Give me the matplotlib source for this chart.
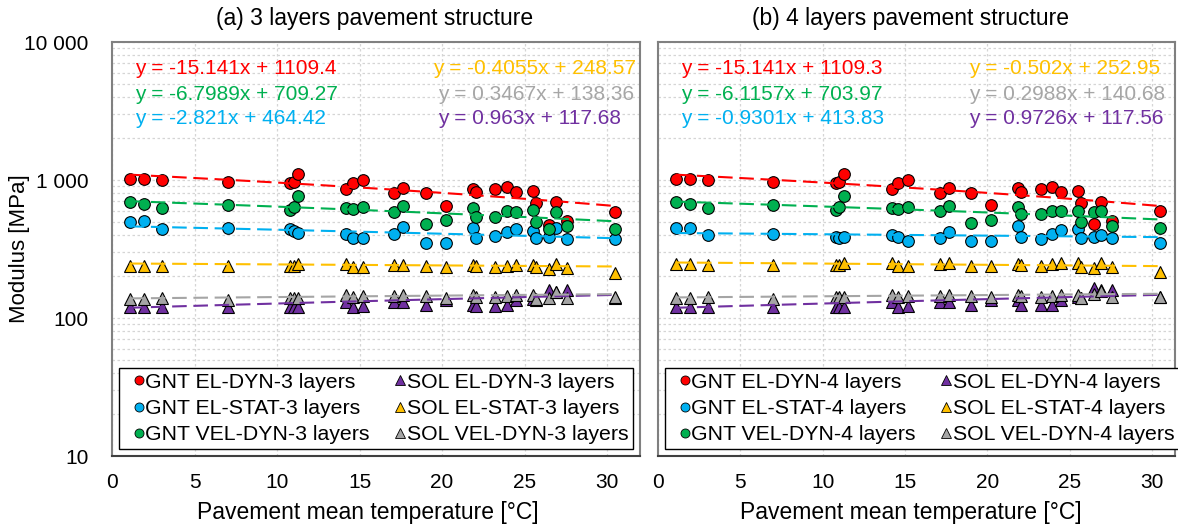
import numpy as np
import matplotlib
matplotlib.use("Agg")
import matplotlib.pyplot as plt
from matplotlib.lines import Line2D
from matplotlib.ticker import LogLocator, FuncFormatter, NullFormatter

plt.rcParams['font.family'] = ['Liberation Sans', 'DejaVu Sans']

# ---------------- data ----------------
temperature = [1.07, 1.94, 3.05, 7.0, 10.8, 11.0, 11.29, 14.2, 14.6, 15.2, 17.1, 17.66,
               19.04, 20.25, 21.86, 22.07, 23.24, 23.93, 24.5, 25.5, 25.7, 26.5, 26.92,
               27.6, 30.46]

series_names = ["GNT EL-DYN", "GNT EL-STAT", "GNT VEL-DYN",
                "SOL EL-DYN", "SOL EL-STAT", "SOL VEL-DYN"]
series_colors = ["#FF0000", "#00B0F0", "#00B050", "#7030A0", "#FFC000", "#A5A5A5"]
series_markers = ["o", "o", "o", "^", "^", "^"]

# (a) 3 layers
gnt_el_dyn_3 = [1012, 1022, 1000, 962, 946, 972, 1105, 856, 946, 1000, 801, 880, 801, 651,
                860, 823, 860, 894, 814, 837, 678, 472, 696, 505, 589]
gnt_el_stat_3 = [499, 505, 441, 451, 441, 427, 411, 406, 378, 378, 404, 459, 348, 348,
                 451, 378, 395, 420, 439, 427, 378, 384, 446, 372, 374]
gnt_vel_dyn_3 = [689, 670, 623, 659, 606, 641, 770, 630, 616, 641, 590, 648, 480, 513,
                 623, 542, 536, 596, 590, 606, 493, 439, 590, 464, 441]
sol_el_dyn_3 = [121, 121, 121, 120, 121, 121, 121, 131, 121, 122, 131, 131, 124, 135,
                124, 123, 123, 124, 135, 137, 135, 160, 155, 160, 140]
sol_el_stat_3 = [239, 239, 237, 237, 239, 239, 245, 246, 236, 236, 242, 242, 238, 236,
                 242, 238, 236, 239, 242, 242, 233, 225, 245, 232, 211]
sol_vel_dyn_3 = [137, 137, 139, 135, 139, 139, 139, 148, 143, 144, 145, 147, 145, 139,
                 148, 143, 143, 145, 148, 148, 137, 140, 155, 140, 143]

# (b) 4 layers
gnt_el_dyn_4 = [1012, 1022, 1000, 962, 946, 972, 1105, 856, 946, 1000, 800, 880, 810, 659,
                870, 823, 861, 895, 814, 837, 677, 480, 697, 505, 596]
gnt_el_stat_4 = [446, 451, 400, 404, 384, 378, 389, 400, 384, 361, 378, 422, 363, 363,
                 464, 384, 372, 406, 434, 439, 378, 389, 400, 382, 351]
gnt_vel_dyn_4 = [689, 670, 623, 659, 606, 641, 770, 630, 616, 641, 596, 652, 485, 513,
                 634, 567, 567, 600, 600, 600, 499, 590, 600, 464, 446]
sol_el_dyn_4 = [121, 121, 121, 120, 121, 121, 121, 131, 121, 122, 131, 131, 124, 135,
                135, 124, 124, 124, 135, 142, 139, 164, 160, 160, 142]
sol_el_stat_4 = [246, 246, 242, 242, 242, 242, 249, 251, 239, 239, 246, 251, 239, 238,
                 246, 242, 238, 245, 249, 249, 233, 229, 249, 233, 214]
sol_vel_dyn_4 = [140, 140, 141, 137, 141, 141, 143, 148, 143, 145, 145, 148, 145, 143,
                 148, 144, 143, 145, 148, 148, 140, 150, 157, 143, 143]

# trendline coefficients (as printed on the chart)
slopes_3 = [-15.141, -2.821, -6.7989, 0.963, -0.4055, 0.3467]
intercepts_3 = [1109.4, 464.42, 709.27, 117.68, 248.57, 138.36]
slopes_4 = [-15.141, -0.9301, -6.1157, 0.9726, -0.502, 0.2988]
intercepts_4 = [1109.3, 413.83, 703.97, 117.56, 252.95, 140.68]

panel_titles = ["(a) 3 layers pavement structure", "(b) 4 layers pavement structure"]
layer_labels = ["3 layers", "4 layers"]
x_ticks = [0, 5, 10, 15, 20, 25, 30]
y_ticks = [10, 100, 1000, 10000]

panels = [
    dict(values=[gnt_el_dyn_3, gnt_el_stat_3, gnt_vel_dyn_3, sol_el_dyn_3, sol_el_stat_3, sol_vel_dyn_3],
         slopes=slopes_3, intercepts=intercepts_3),
    dict(values=[gnt_el_dyn_4, gnt_el_stat_4, gnt_vel_dyn_4, sol_el_dyn_4, sol_el_stat_4, sol_vel_dyn_4],
         slopes=slopes_4, intercepts=intercepts_4),
]

# ---------------- layout ----------------
W, H = 1178, 526
fig = plt.figure(figsize=(W / 100, H / 100), dpi=100)

def px_axes(l, t, r, b):
    return fig.add_axes([l / W, 1 - b / H, (r - l) / W, (b - t) / H])

axes_px = [(112, 42, 640, 456), (658, 42, 1175, 456)]
xlims = [(0, 32), (0, 31.4)]
title_x = [375, 910]
xlabel_x = [368, 911]

# equation text placement (pixel positions): order matches series order
eq_pos = [
    [(135, 68), (135, 119), (135, 94), (438, 119), (433, 68), (438, 94)],
    [(681, 68), (681, 119), (681, 94), (969, 119), (969, 68), (969, 94)],
]

TXT = 15
for p, panel in enumerate(panels):
    l, t, r, b = axes_px[p]
    ax = px_axes(l, t, r, b)
    ax.set_yscale('log')
    ax.set_xlim(*xlims[p])
    ax.set_ylim(10, 10000)

    T = np.array(temperature)
    for i in range(6):
        ax.plot(T, panel['values'][i], linestyle='none', marker=series_markers[i],
                markersize=8.4, markerfacecolor=series_colors[i], markeredgecolor='black',
                markeredgewidth=0.8, zorder=2 + i * 0.01)
    for i in range(6):
        xs = np.linspace(T.min(), T.max(), 60)
        ax.plot(xs, panel['slopes'][i] * xs + panel['intercepts'][i], color=series_colors[i],
                lw=1.5, dashes=(7, 3.2), zorder=3)

    # equations
    for i in range(6):
        ex, ey = eq_pos[p][i]
        col = series_colors[i] if series_colors[i] != "#A5A5A5" else "#A6A6A6"
        ax.text((ex - l) / (r - l), (b - ey) / (b - t),
                f"y = {panel['slopes'][i]}x + {panel['intercepts'][i]}",
                transform=ax.transAxes, ha='left', va='center', fontsize=TXT, color=col, zorder=5)

    # grid
    ax.set_xticks(x_ticks)
    ax.yaxis.set_minor_locator(LogLocator(base=10, subs=np.arange(2, 10)))
    ax.yaxis.set_minor_formatter(NullFormatter())
    ax.set_yticks(y_ticks)
    ax.grid(True, which='major', axis='both', color='#D5D5D5', linestyle=(0, (2, 2)), lw=0.9, zorder=0)
    ax.grid(True, which='minor', axis='y', color='#D5D5D5', linestyle=(0, (2, 2)), lw=0.9, zorder=0)
    ax.set_axisbelow(True)
    ax.tick_params(which='both', length=0)
    ax.tick_params(axis='x', labelsize=TXT, pad=12)
    ax.tick_params(axis='y', labelsize=TXT, pad=17)
    if p == 0:
        ax.yaxis.set_major_formatter(FuncFormatter(lambda v, pos: f"{int(round(v)):,}".replace(",", " ")))
        ax.set_ylabel("Modulus [MPa]", fontsize=16)
        ax.yaxis.set_label_coords((20 - l) / (r - l), 0.5)
        ax.yaxis.label.set_va('center')
    else:
        ax.tick_params(axis='y', labelleft=False)

    ax.set_xlabel("Pavement mean temperature [°C]", fontsize=16.5)
    ax.xaxis.set_label_coords((xlabel_x[p] - l) / (r - l), (b - 512) / (b - t))
    ax.xaxis.label.set_va('center')

    for s in ['left', 'right', 'top']:
        ax.spines[s].set_color('#808080')
        ax.spines[s].set_linewidth(1.5)
    ax.spines['bottom'].set_color('#404040')
    ax.spines['bottom'].set_linewidth(1.5)

    fig.text(title_x[p] / W, 1 - 18 / H, panel_titles[p], ha='center', va='center', fontsize=16.5)

    handles = [Line2D([], [], linestyle='none', marker=series_markers[i], markersize=6.5,
                      markerfacecolor=series_colors[i], markeredgecolor='black', markeredgewidth=0.6,
                      label=f"{series_names[i]}-{layer_labels[p]}") for i in range(6)]
    leg = ax.legend(handles=handles, ncol=2, loc='lower left',
                    bbox_to_anchor=(7 / (r - l), 7 / (b - t)), fontsize=15.3,
                    frameon=True, fancybox=False, edgecolor='black', framealpha=1,
                    handlelength=1.4, handletextpad=-0.4, columnspacing=0.75,
                    labelspacing=0.34, borderpad=0.22, borderaxespad=0)
    leg.get_frame().set_linewidth(1.0)
    leg.set_zorder(6)

fig.savefig("out.png", dpi=100, facecolor='white')
